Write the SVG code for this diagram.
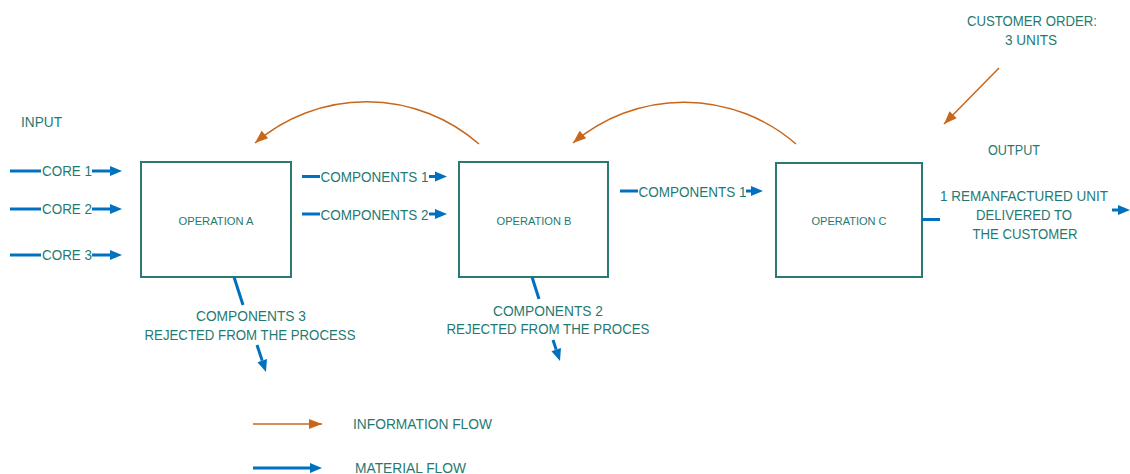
<svg xmlns="http://www.w3.org/2000/svg" width="1130" height="474" viewBox="0 0 1130 474">
<defs>
<style>
text{font-family:"Liberation Sans",Arial,sans-serif;font-size:15px;fill:#1f7a72;}
.op{font-size:11.5px;text-anchor:middle;}
.c{text-anchor:middle;}
.box{fill:#ffffff;stroke:#2a7a74;stroke-width:2;}
.mat{fill:none;stroke:#0070c0;stroke-width:3;marker-end:url(#bh);}
.matn{fill:none;stroke:#0070c0;stroke-width:3;}
.info{fill:none;stroke:#c8661a;stroke-width:1.5;marker-end:url(#oh);}
</style>
<marker id="bh" markerUnits="userSpaceOnUse" markerWidth="12" markerHeight="10" refX="0" refY="5" orient="auto" overflow="visible">
<path d="M0,0 L12,5 L0,10 Z" fill="#0070c0"/>
</marker>
<marker id="oh" markerUnits="userSpaceOnUse" markerWidth="13" markerHeight="10" refX="13" refY="5" orient="auto" overflow="visible">
<path d="M0,0 L13,5 L0,10 Z" fill="#c8661a"/>
</marker>
</defs>
<rect width="1130" height="474" fill="#ffffff"/>

<g id="opA">
<rect class="box" x="141" y="162" width="150" height="115"/>
<text class="op" x="216" y="225" textLength="75" lengthAdjust="spacingAndGlyphs">OPERATION A</text>
</g>
<g id="opB">
<rect class="box" x="459" y="162" width="149" height="115"/>
<text class="op" x="534" y="225" textLength="75" lengthAdjust="spacingAndGlyphs">OPERATION B</text>
</g>
<g id="opC">
<rect class="box" x="776" y="163" width="146" height="114"/>
<text class="op" x="849" y="225" textLength="75" lengthAdjust="spacingAndGlyphs">OPERATION C</text>
</g>

<g id="connectors">
<line class="matn" x1="10" y1="171" x2="41" y2="171"/>
<line class="mat" x1="92" y1="171" x2="110" y2="171"/>
<line class="matn" x1="10" y1="209" x2="41" y2="209"/>
<line class="mat" x1="92" y1="209" x2="110" y2="209"/>
<line class="matn" x1="10" y1="255" x2="41" y2="255"/>
<line class="mat" x1="92" y1="255" x2="110" y2="255"/>

<line class="matn" x1="302" y1="176.5" x2="320" y2="176.5"/>
<line class="mat" x1="429" y1="176.5" x2="435" y2="176.5"/>
<line class="matn" x1="302" y1="214" x2="320" y2="214"/>
<line class="mat" x1="429" y1="214" x2="435" y2="214"/>

<line class="matn" x1="620" y1="191" x2="638" y2="191"/>
<line class="mat" x1="746" y1="191" x2="751" y2="191"/>

<line class="matn" x1="922" y1="219.5" x2="940" y2="219.5"/>
<line class="mat" x1="1112" y1="210" x2="1118" y2="210"/>

<line class="matn" x1="234" y1="277" x2="243" y2="305"/>
<line class="mat" x1="257" y1="345" x2="262.2" y2="360.6"/>
<line class="matn" x1="532" y1="277" x2="539" y2="299"/>
<line class="mat" x1="553" y1="340" x2="556.2" y2="349.6"/>

<path class="info" d="M479,144 A171,171 0 0 0 255,143"/>
<path class="info" d="M796,144 A171,171 0 0 0 573,143"/>
<line class="info" x1="999" y1="68" x2="944" y2="124"/>

<line class="info" x1="253" y1="424" x2="322" y2="424"/>
<line class="mat" x1="253" y1="468" x2="310" y2="468"/>
</g>

<g id="labels">
<text x="21" y="127" textLength="41" lengthAdjust="spacingAndGlyphs">INPUT</text>
<text x="42" y="176" textLength="50" lengthAdjust="spacingAndGlyphs">CORE 1</text>
<text x="42" y="214" textLength="50" lengthAdjust="spacingAndGlyphs">CORE 2</text>
<text x="42" y="260" textLength="50" lengthAdjust="spacingAndGlyphs">CORE 3</text>
<text x="320.5" y="182" textLength="108" lengthAdjust="spacingAndGlyphs">COMPONENTS 1</text>
<text x="320.5" y="220" textLength="108" lengthAdjust="spacingAndGlyphs">COMPONENTS 2</text>
<text x="638.5" y="196.5" textLength="108" lengthAdjust="spacingAndGlyphs">COMPONENTS 1</text>

<text class="c" x="1032" y="26" textLength="130" lengthAdjust="spacingAndGlyphs">CUSTOMER ORDER:</text>
<text class="c" x="1031" y="45" textLength="52" lengthAdjust="spacingAndGlyphs">3 UNITS</text>
<text class="c" x="1014" y="155" textLength="52" lengthAdjust="spacingAndGlyphs">OUTPUT</text>
<text class="c" x="1024" y="201" textLength="168" lengthAdjust="spacingAndGlyphs">1 REMANFACTURED UNIT</text>
<text class="c" x="1024" y="220" textLength="96" lengthAdjust="spacingAndGlyphs">DELIVERED TO</text>
<text class="c" x="1025" y="239" textLength="105" lengthAdjust="spacingAndGlyphs">THE CUSTOMER</text>

<text class="c" x="251" y="321" textLength="110" lengthAdjust="spacingAndGlyphs">COMPONENTS 3</text>
<text class="c" x="250" y="340" textLength="211" lengthAdjust="spacingAndGlyphs">REJECTED FROM THE PROCESS</text>
<text class="c" x="548" y="316" textLength="110" lengthAdjust="spacingAndGlyphs">COMPONENTS 2</text>
<text class="c" x="548" y="334" textLength="203" lengthAdjust="spacingAndGlyphs">REJECTED FROM THE PROCES</text>

<text x="353" y="429" textLength="139" lengthAdjust="spacingAndGlyphs">INFORMATION FLOW</text>
<text x="355" y="473" textLength="111" lengthAdjust="spacingAndGlyphs">MATERIAL FLOW</text>
</g>
</svg>
